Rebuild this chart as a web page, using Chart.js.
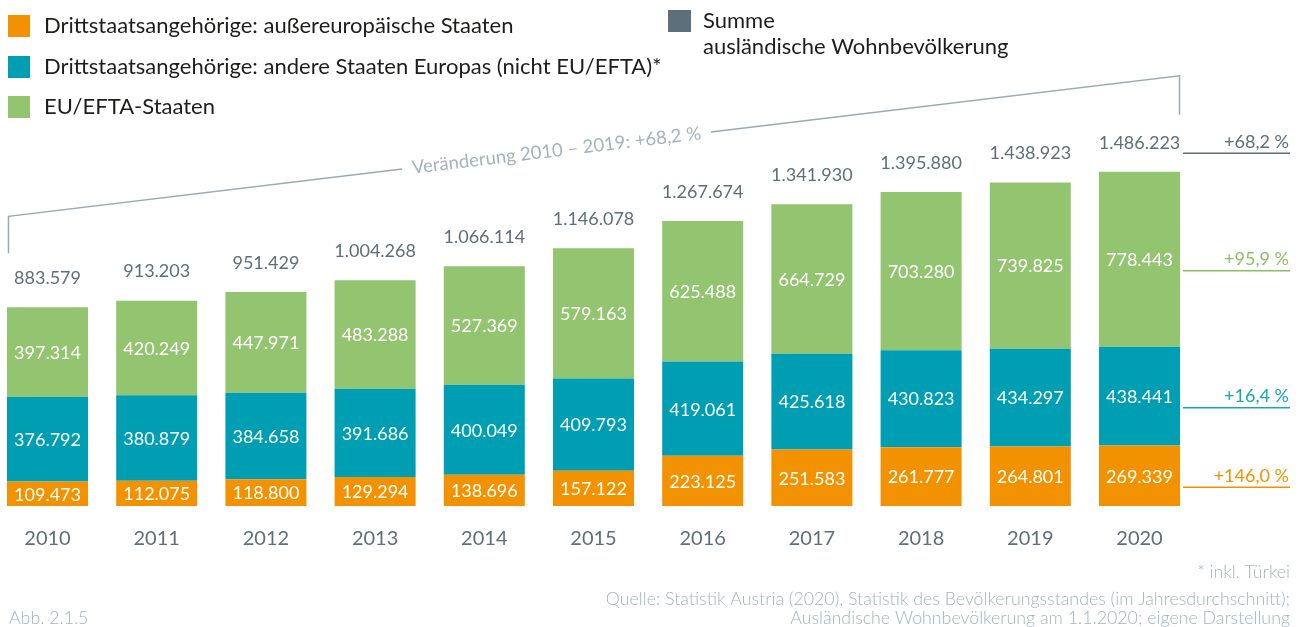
<!DOCTYPE html>
<html lang="de">
<head>
<meta charset="utf-8">
<script src="https://cdn.jsdelivr.net/npm/chart.js@4.4.1/dist/chart.umd.min.js"></script>
<style>
  html, body { margin: 0; padding: 0; background: #fff; }
  #wrap { width: 1301px; height: 627px; position: relative; }
</style>
</head>
<body>
<div id="wrap"><canvas id="chart" width="1301" height="627"></canvas></div>
<script>
// --- data ---
const years = ['2010', '2011', '2012', '2013', '2014', '2015', '2016', '2017', '2018', '2019', '2020'];
const nonEurope = [109473, 112075, 118800, 129294, 138696, 157122, 223125, 251583, 261777, 264801, 269339];
const otherEurope = [376792, 380879, 384658, 391686, 400049, 409793, 419061, 425618, 430823, 434297, 438441];
const euEfta = [397314, 420249, 447971, 483288, 527369, 579163, 625488, 664729, 703280, 739825, 778443];

const seriesNames = [
    'Drittstaatsangehörige: außereuropäische Staaten',
    'Drittstaatsangehörige: andere Staaten Europas (nicht EU/EFTA)*',
    'EU/EFTA-Staaten'
];
const totalName = ['Summe', 'ausländische Wohnbevölkerung'];
const changeTotal = '+68,2 %';
const changes = ['+146,0 %', '+16,4 %', '+95,9 %'];
const bracketText = 'Veränderung 2010 – 2019: +68,2 %';
const footnote = '* inkl. Türkei';
const sourceLines = [
    'Quelle: Statistik Austria (2020), Statistik des Bevölkerungsstandes (im Jahresdurchschnitt);',
    'Ausländische Wohnbevölkerung am 1.1.2020; eigene Darstellung'
];
const figLabel = 'Abb. 2.1.5';

// --- styles ---
const colors = ['#f39200', '#009eb3', '#93c46f'];
const changeColors = ['#f39200', '#1aa5ba', '#8cc068'];
const grey = '#5d6f7b';
const lightGrey = '#a5b3bd';
const FONT = 'Lato, "Noto Sans", sans-serif';

const totals = years.map((_, i) => nonEurope[i] + otherEurope[i] + euEfta[i]);
const fmt = v => String(v).replace(/\B(?=(\d{3})+(?!\d))/g, '.');

// --- custom drawing: labels, legend, bracket, notes ---
const decor = {
    id: 'decor',
    afterDatasetsDraw(chart) {
        const ctx = chart.ctx;
        const W = chart.width;
        ctx.save();
        ctx.textBaseline = 'middle';

        // values inside the segments
        ctx.font = '18px ' + FONT;
        ctx.textAlign = 'center';
        ctx.fillStyle = '#ffffff';
        chart.data.datasets.forEach((ds, d) => {
            chart.getDatasetMeta(d).data.forEach((bar, i) => {
                ctx.fillText(fmt(ds.data[i]), bar.x, (bar.y + bar.base) / 2 + 1);
            });
        });

        // totals above bars
        const topBars = chart.getDatasetMeta(2).data;
        ctx.fillStyle = grey;
        topBars.forEach((bar, i) => ctx.fillText(fmt(totals[i]), bar.x, bar.y - 29));

        // right hand change figures
        const last = years.length - 1;
        const rx = W - 12, lx = W - 118;
        const rows = [{ y: topBars[last].y - 29, text: changeTotal, color: grey }];
        chart.data.datasets.forEach((ds, d) => {
            const bar = chart.getDatasetMeta(d).data[last];
            rows.push({ y: (bar.y + bar.base) / 2 + 1, text: changes[d], color: changeColors[d] });
        });
        ctx.textAlign = 'right';
        ctx.lineWidth = 1.5;
        rows.forEach(r => {
            ctx.fillStyle = r.color;
            ctx.fillText(r.text, rx, r.y - 1);
            ctx.strokeStyle = r.color;
            ctx.beginPath();
            ctx.moveTo(lx, r.y + 10.5);
            ctx.lineTo(rx + 1, r.y + 10.5);
            ctx.stroke();
        });

        // bracket 2010 -> 2020
        const b0 = topBars[0], b1 = topBars[last];
        const x0 = b0.x - b0.width / 2 + 1.5;
        const x1 = b1.x + b1.width / 2 - 0.5;
        const y0b = b0.y - 54, y0t = y0b - 37;
        const y1b = b1.y - 57, y1t = y1b - 39;
        const ang = Math.atan2(y1t - y0t, x1 - x0);
        const len = Math.hypot(x1 - x0, y1t - y0t);
        ctx.font = '18.5px ' + FONT;
        const tw = ctx.measureText(bracketText).width;
        const tc = 0.468 * len;
        ctx.strokeStyle = '#98aab6';
        ctx.lineWidth = 1.5;
        ctx.beginPath();
        ctx.moveTo(x0, y0b);
        ctx.lineTo(x0, y0t);
        ctx.lineTo(x0 + Math.cos(ang) * (tc - tw / 2 - 10), y0t + Math.sin(ang) * (tc - tw / 2 - 10));
        ctx.moveTo(x0 + Math.cos(ang) * (tc + tw / 2 + 10), y0t + Math.sin(ang) * (tc + tw / 2 + 10));
        ctx.lineTo(x1, y1t);
        ctx.lineTo(x1, y1b);
        ctx.stroke();
        ctx.translate(x0 + Math.cos(ang) * tc, y0t + Math.sin(ang) * tc);
        ctx.rotate(ang);
        ctx.textAlign = 'center';
        ctx.fillStyle = lightGrey;
        ctx.fillText(bracketText, 0, 0);
        ctx.restore();

        // legend
        ctx.save();
        ctx.textBaseline = 'middle';
        ctx.textAlign = 'left';
        ctx.font = '22px ' + FONT;
        const legY = [26, 67, 107];
        seriesNames.forEach((name, d) => {
            ctx.fillStyle = colors[d];
            ctx.fillRect(8, legY[d] - 11, 22, 22);
            ctx.fillStyle = '#1d1d1b';
            ctx.fillText(name, 44, legY[d]);
        });
        ctx.fillStyle = grey;
        ctx.fillRect(668, 10, 23, 22);
        ctx.fillStyle = '#1d1d1b';
        ctx.fillText(totalName[0], 703, 21);
        ctx.fillText(totalName[1], 703, 47);

        // notes
        ctx.font = '300 17.8px ' + FONT;
        ctx.fillStyle = lightGrey;
        ctx.textAlign = 'right';
        ctx.fillText(footnote, W - 11, 572);
        ctx.fillText(sourceLines[0], W - 11, 599);
        ctx.fillText(sourceLines[1], W - 11, 618);
        ctx.textAlign = 'left';
        ctx.fillText(figLabel, 9, 618);
        ctx.restore();
    }
};

const ctx = document.getElementById('chart').getContext('2d');
const chart = new Chart(ctx, {
    type: 'bar',
    data: {
        labels: years,
        datasets: [
            { label: seriesNames[0], data: nonEurope, backgroundColor: colors[0] },
            { label: seriesNames[1], data: otherEurope, backgroundColor: colors[1] },
            { label: seriesNames[2], data: euEfta, backgroundColor: colors[2] }
        ]
    },
    options: {
        responsive: false,
        devicePixelRatio: 1,
        animation: false,
        layout: { padding: { left: 0, right: 0, top: 0, bottom: 55 } },
        datasets: { bar: { categoryPercentage: 1, barPercentage: 0.742, borderWidth: 0 } },
        plugins: { legend: { display: false }, tooltip: { enabled: false } },
        scales: {
            x: {
                type: 'linear',
                stacked: true,
                offset: false,
                min: 2009.565,
                max: 2021.479,
                grid: { display: false, drawTicks: false, offset: false },
                border: { display: false },
                ticks: {
                    stepSize: 1,
                    maxTicksLimit: 20,
                    includeBounds: false,
                    autoSkip: false,
                    maxRotation: 0,
                    padding: 21,
                    color: grey,
                    font: { family: FONT, size: 20 },
                    callback: v => (Number.isInteger(v) && years.includes(String(v))) ? String(v) : ''
                }
            },
            y: {
                stacked: true,
                display: false,
                min: 0,
                max: 2250000
            }
        }
    },
    plugins: [decor]
});
</script>
</body>
</html>
